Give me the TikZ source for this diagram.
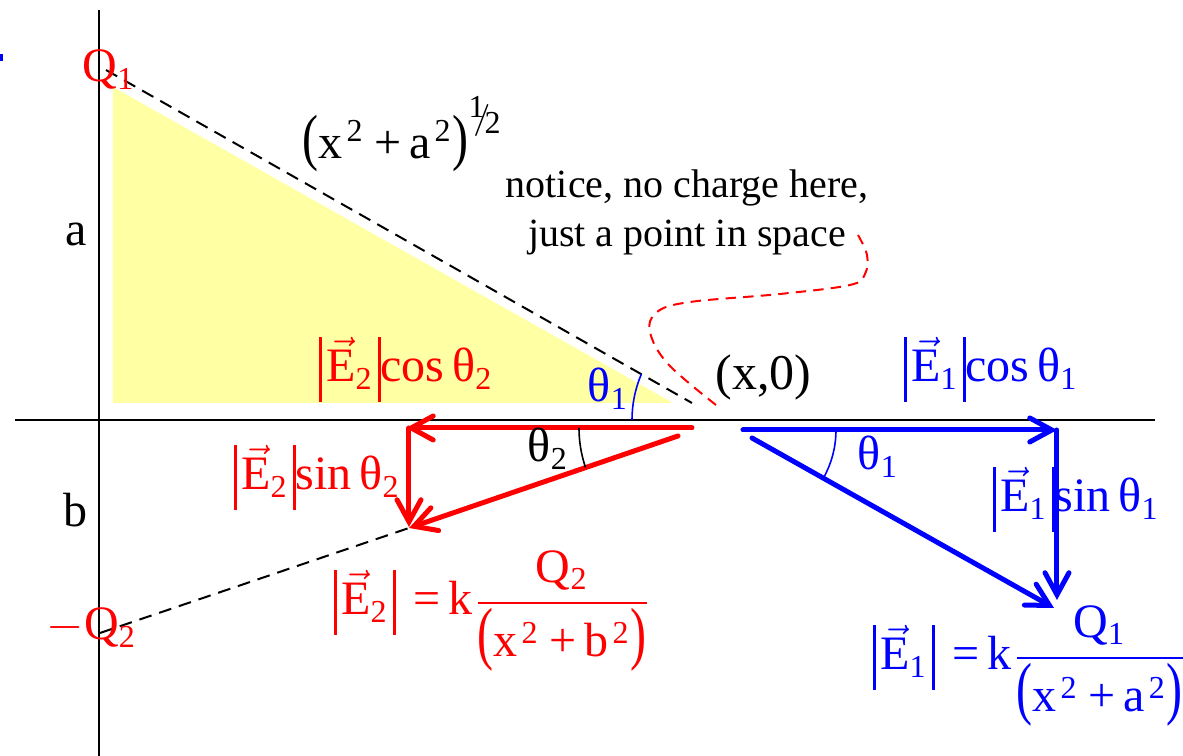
\documentclass[tikz,border=0pt]{standalone}
\usepackage{graphicx}
\usepackage{fontspec}
\setmainfont{Liberation Serif}
\usetikzlibrary{arrows.meta}
\newcommand{\vbar}{\rule[-5pt]{0.7pt}{16.3pt}}
\newcommand{\Ev}[1]{\mbox{\vbar\hspace{1.2pt}$\vec{\mathrm{E}}_{\mathrm{#1}}$\hspace{1pt}\vbar}}
\newcommand{\thet}{\mbox{θ}}
\newcommand{\tlp}[1]{\mathopen{\scalebox{1}[#1]{(}}}
\newcommand{\trp}[1]{\mathclose{\scalebox{1}[#1]{)}}}
\newcommand{\sq}{^{\mkern2mu\mathrm{2}}}
\newcommand{\pl}{\mbox{\hspace{2.5pt}+\hspace{2pt}}}
\newcommand{\eqs}{\mbox{\hspace{4.5pt}=\hspace{2pt}}}
\definecolor{paleyellow}{RGB}{255,255,163}
\begin{document}
\nulldelimiterspace=0pt
\begin{tikzpicture}[x=0.25pt,y=-0.25pt,
  lbl/.style={inner sep=0pt, anchor=base west, font=\fontsize{12}{14}\selectfont},
  redvec/.style={red, line width=1.25pt, line cap=round, -{Straight Barb[length=5.5pt,width=6pt,line cap=round]}},
  bluevec/.style={blue, line width=1.25pt, line cap=round, -{Straight Barb[length=5.5pt,width=6pt,line cap=round]}},
  guide/.style={black, line width=0.5pt, dash pattern=on 3.2pt off 2pt},
  axis/.style={black, line width=0.6pt},
  anglearc/.style={line width=0.4pt}]
\useasboundingbox (0,0) rectangle (1183,756);
% small mark at left edge
\fill[blue] (0,54) rectangle (3,61);
% yellow triangle
\fill[paleyellow] (113,87) -- (113,403) -- (673,403) -- cycle;
% axes
\coordinate (ytop) at (99,10);
\coordinate (ybot) at (99,756);
\coordinate (xleft) at (15,420);
\coordinate (xright) at (1155,420);
\draw[axis] (ytop) -- (ybot);
\draw[axis] (xleft) -- (xright);
% guide lines
\coordinate (q1pt) at (106,70);
\coordinate (xpt) at (692,403);
\coordinate (q2pt) at (100,633);
\coordinate (e2tip) at (409,528);
\draw[guide] (q1pt) -- (xpt);
\draw[guide] (q2pt) -- (e2tip);
% red vectors
\coordinate (r0) at (692,428);
\coordinate (r1) at (406,428);
\coordinate (r2) at (678,436);
\coordinate (r3) at (409,428);
\coordinate (r4) at (409,527);
\draw[redvec] (r0) -- (r1);
\draw[redvec] (r3) -- (r4);
\draw[redvec] (r2) -- (e2tip);
% blue vectors
\coordinate (b0) at (743,430);
\coordinate (b1) at (1057,430);
\coordinate (b2) at (1057,600);
\coordinate (b3) at (752,438);
\coordinate (b4) at (1054,608);
\draw[bluevec] (b0) -- (b1);
\draw[bluevec] (b1) -- (b2);
\draw[bluevec] (b3) -- (b4);
% angle arcs
\draw[blue, anglearc] (632,420) arc[start angle=180, end angle=203, radius=117];
\draw[black, anglearc] (579,428) arc[start angle=180, end angle=161.3, radius=123];
\draw[blue, anglearc] (836,430) arc[start angle=0, end angle=29.5, radius=98];
% callout curve
\coordinate (callstart) at (858,235);
\coordinate (callend) at (716,405);
\draw[red, line width=0.5pt, dash pattern=on 2.6pt off 1.8pt]
  plot[smooth, tension=0.6] coordinates {(callstart) (867,255) (865,274) (850,285) (780,294) (690,302) (657,312) (650,332) (668,364) (callend)};
% labels
\node[lbl, red] (Q1) at (82,82) {$\mathrm{Q}_{\mathrm{1}}$};
\node[lbl, red] (Q2) at (46,640) {$-\mathrm{Q}_{\mathrm{2}}$};
\node[lbl] (la) at (65,246) {a};
\node[lbl] (lb) at (63,527) {b};
\node[lbl] (hyp) at (302,159) {$\tlp{1.3}\mathrm{x}\sq\pl\mathrm{a}\sq\trp{1.3}^{\raisebox{0.5ex}{$\scriptstyle\mathrm{1}$}\!\!/\!\raisebox{-0.25ex}{$\scriptstyle\mathrm{2}$}}$};
\node[inner sep=0pt, align=center, font=\fontsize{10}{12.25}\selectfont] (notice) at (687,212) {notice, no charge here,\\just a point in space};
\node[lbl, font=\fontsize{12.5}{14}\selectfont] (xo) at (715,390) {(x,0)};
\node[lbl, blue] (th1a) at (587,402) {$\thet_{\mathrm{1}}$};
\node[lbl] (th2) at (527,462) {$\thet_{\mathrm{2}}$};
\node[lbl, blue] (th1b) at (857,470) {$\thet_{\mathrm{1}}$};
\node[lbl, red] (e2cos) at (318,382) {$\Ev{2}\mathrm{cos}\,\thet_{\mathrm{2}}$};
\node[lbl, red] (e2sin) at (233,490) {$\Ev{2}\mathrm{sin}\,\thet_{\mathrm{2}}$};
\node[lbl, blue] (e1cos) at (903,382) {$\Ev{1}\mathrm{cos}\,\thet_{\mathrm{1}}$};
\node[lbl, blue] (e1sin) at (992,512) {$\Ev{1}\mathrm{sin}\,\thet_{\mathrm{1}}$};
\node[lbl, red] (e2eq) at (333,615) {$\displaystyle\Ev{2}\eqs\mathrm{k}\mkern2mu\frac{\mathrm{Q}_{\mathrm{2}}}{\tlp{1.45}\mathrm{x}\sq\pl\mathrm{b}\sq\trp{1.45}}$};
\node[lbl, blue] (e1eq) at (872,670) {$\displaystyle\Ev{1}\eqs\mathrm{k}\mkern2mu\frac{\mathrm{Q}_{\mathrm{1}}}{\tlp{1.45}\mathrm{x}\sq\pl\mathrm{a}\sq\trp{1.45}}$};
\end{tikzpicture}
\end{document}
